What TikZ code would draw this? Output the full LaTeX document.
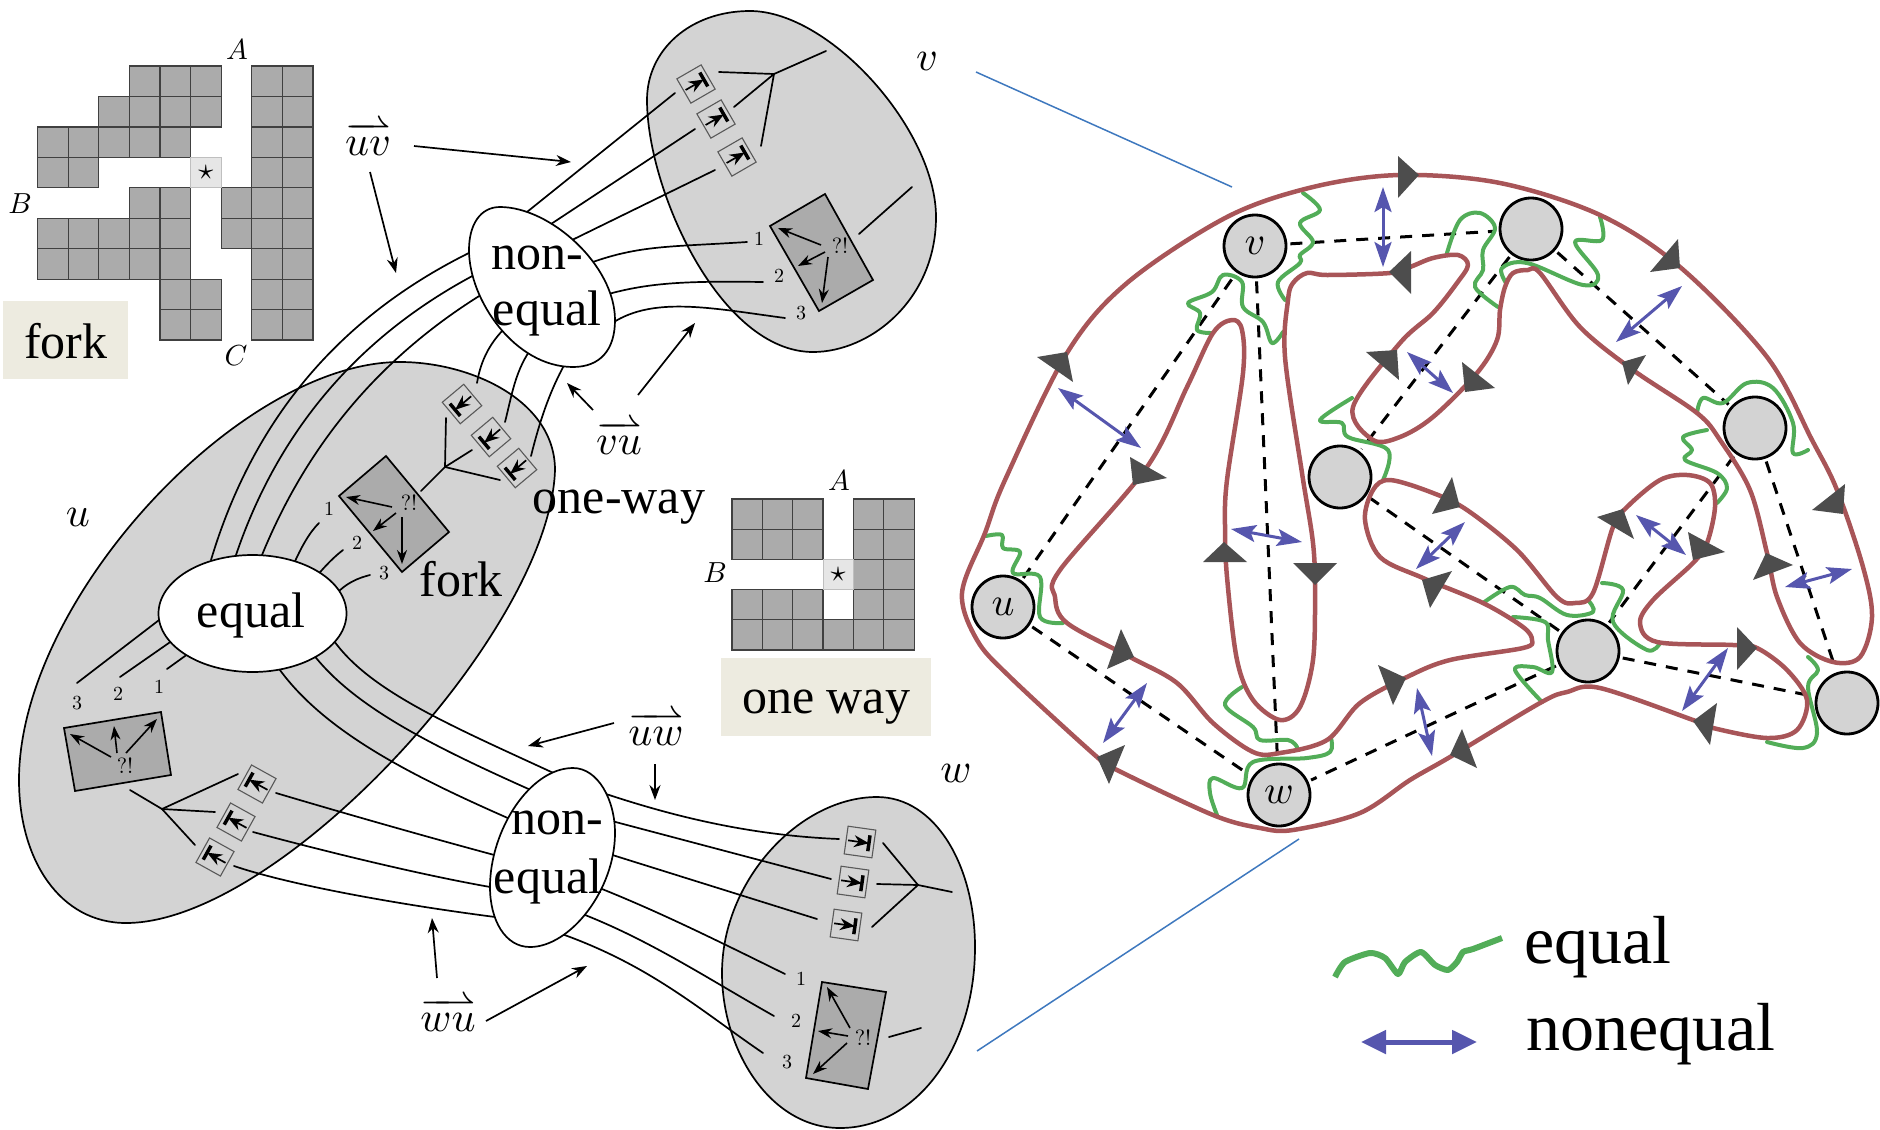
\documentclass[tikz,border=0pt]{standalone}
\usepackage{amsmath}
\usepackage{graphicx}
\usepackage[no-math]{fontspec}
\setmainfont{Liberation Serif}
\usetikzlibrary{arrows.meta,shapes.geometric}
\makeatletter
\def\harpfill@{\arrowfill@\relbar\relbar\rightharpoonup}
\newcommand\ovh{\mathpalette{\overarrow@\harpfill@}}
\makeatother
\definecolor{ellgray}{HTML}{D3D3D3}
\definecolor{rectgray}{HTML}{ABABAB}
\definecolor{stargray}{HTML}{E6E6E6}
\definecolor{tagbg}{HTML}{EDEBE0}
\definecolor{brownred}{HTML}{A85558}
\definecolor{eqgreen}{HTML}{52AD58}
\definecolor{neblue}{HTML}{5656AE}
\definecolor{tridark}{HTML}{4D4D4D}
\definecolor{zoomblue}{HTML}{3E78BE}
\newcommand\bigtxt{\fontsize{50}{56}\selectfont}
\newcommand\hugetxt{\fontsize{68}{76}\selectfont}
\newcommand\mth[2]{\scalebox{#1}{$#2$}}
\tikzset{
  lline/.style={line width=1.7pt,line cap=round},
  ell/.style={draw=black,line width=1.7pt,fill=ellgray},
  wellipse/.style={draw=black,line width=1.7pt,fill=white},
  frect/.style={draw=black,line width=1.7pt,fill=rectgray,line join=miter},
  sarrow/.style={line width=1.6pt,-{Stealth[length=14pt,width=10pt]}},
  parrow/.style={line width=1.7pt,-{Stealth[length=15pt,width=11pt]}},
  txt/.style={inner sep=0pt,outer sep=0pt},
  tagbox/.style={fill=tagbg,draw=none},
  cellg/.style={fill=rectgray,draw=black!75,line width=1.2pt},
  cellstar/.style={fill=stargray,draw=black!25,line width=1pt},
  dashline/.style={line width=3pt,dash pattern=on 12pt off 10pt},
  brown/.style={draw=brownred,line width=4.5pt,line join=round},
  greenl/.style={draw=eqgreen,line width=4pt,line cap=round,line join=round},
  blued/.style={draw=neblue,line width=3pt,
    {Stealth[length=25pt,width=17pt,inset=5pt]}-{Stealth[length=25pt,width=17pt,inset=5pt]}},
  tri/.style={fill=tridark},
  vert/.style={circle,draw=black,fill=ellgray,line width=2.8pt,minimum size=62pt,inner sep=0pt},
  zoomline/.style={draw=zoomblue,line width=1.5pt},
}
\newcommand\tbx[3]{%
  \begin{scope}[shift={(#1,#2)},rotate=#3]
    \draw[draw=black!65,line width=1.1pt,fill=ellgray] (-14,-14) rectangle (14,14);
    \draw[line width=1.7pt,-{Stealth[length=15pt,width=12pt]}] (-12,0) -- (9,0);
    \draw[line width=3.5pt] (9,-8) -- (9,8);
  \end{scope}}
\begin{document}
\begin{tikzpicture}[x=1pt,y=-1pt]
\useasboundingbox (0,0) rectangle (1880,1130);

% ---------- fork grid
\foreach \row/\lst in {0/{3,4,5,7,8},1/{2,3,4,5,7,8},2/{0,1,2,3,4,7,8},3/{0,1,7,8},4/{3,4,6,7,8},5/{0,1,2,3,4,6,7,8},6/{0,1,2,3,4,7,8},7/{4,5,7,8},8/{4,5,7,8}}{
  \foreach \c in \lst {
    \draw[cellg] ({37.5+\c*30.6},{66+\row*30.45}) rectangle +(30.6,30.45);
  }
}
\draw[cellstar] ({37.5+5*30.6},{66+3*30.45}) rectangle +(30.6,30.45);
\node[txt] (star1) at ({37.5+5.5*30.6},{66+3.5*30.45}) {\mth{3}{\star}};
\node[txt] (fa) at (237,50) {\mth{2.9}{A}};
\node[txt] (fb) at (20,204) {\mth{2.9}{B}};
\node[txt] (fc) at (236,356) {\mth{2.9}{C}};
\fill[tagbox] (3,301) rectangle (128,379);
\node[txt] (forktag) at (66,341) {\bigtxt fork};

% ---------- one-way grid
\foreach \row/\lst in {0/{0,1,2,4,5},1/{0,1,2,4,5},2/{4,5},3/{0,1,2,4,5},4/{0,1,2,3,4,5}}{
  \foreach \c in \lst {
    \draw[cellg] ({732+\c*30.35},{499+\row*30.2}) rectangle +(30.35,30.2);
  }
}
\draw[cellstar] ({732+3*30.35},{499+2*30.2}) rectangle +(30.35,30.2);
\node[txt] (star2) at ({732+3.5*30.35},{499+2.5*30.2}) {\mth{3}{\star}};
\node[txt] (oa) at (839,481) {\mth{2.9}{A}};
\node[txt] (ob) at (715,573) {\mth{2.9}{B}};
\fill[tagbox] (721,658) rectangle (931,736);
\node[txt] (waytag) at (826,707) {\bigtxt one way};

% ---------- big gray blobs
\path[ell] (400,362) .. controls (470,362) and (555,400) .. (555,470)
  .. controls (550,630) and (280,923) .. (126,923)
  .. controls (60,923) and (19,860) .. (19,780)
  .. controls (19,600) and (240,362) .. (400,362) -- cycle;
\path[ell] (750,11) .. controls (830,11) and (936,130) .. (936,217)
  .. controls (936,300) and (870,352) .. (813,352)
  .. controls (720,352) and (647,190) .. (647,100)
  .. controls (647,50) and (690,11) .. (750,11) -- cycle;
\path[ell] (877,797) .. controls (935,797) and (975,865) .. (975,947)
  .. controls (975,1050) and (915,1128) .. (840,1128)
  .. controls (770,1128) and (722,1050) .. (722,973)
  .. controls (722,880) and (800,797) .. (877,797) -- cycle;

% ---------- bundle lines
\draw[lline] (211,560) .. controls (250,430) and (330,320) .. (475,250);
\draw[lline] (236,555) .. controls (275,440) and (350,340) .. (478,273);
\draw[lline] (262,555) .. controls (305,450) and (375,360) .. (484,293);
\draw[lline] (522,216) -- (675,93);
\draw[lline] (548,226) -- (695,129);
\draw[lline] (570,241) -- (715,170);
\draw[lline] (590,263) .. controls (640,245) and (670,247) .. (747,242);
\draw[lline] (605,295) .. controls (650,282) and (690,281) .. (763,282);
\draw[lline] (608,326) .. controls (650,295) and (710,308) .. (785,318);
\draw[lline] (507,326) .. controls (487,345) and (480,365) .. (477,383);
\draw[lline] (533,346) .. controls (515,370) and (512,395) .. (505,422);
\draw[lline] (567,360) .. controls (550,390) and (540,420) .. (531,456);
\draw[lline] (330,635) .. controls (365,690) and (450,725) .. (560,776);
\draw[lline] (310,650) .. controls (350,705) and (430,745) .. (533,791);
\draw[lline] (275,663) .. controls (320,730) and (410,775) .. (510,819);
\draw[lline] (276,793) .. controls (340,812) and (420,835) .. (498,856);
\draw[lline] (253,832) .. controls (320,850) and (420,875) .. (496,888);
\draw[lline] (234,866) .. controls (290,885) and (400,905) .. (503,918);
\draw[lline] (600,792) .. controls (660,812) and (740,835) .. (839,839);
\draw[lline] (608,820) -- (831,879);
\draw[lline] (606,853) -- (817,919);
\draw[lline] (597,887) .. controls (660,912) and (720,942) .. (785,974);
\draw[lline] (580,913) .. controls (650,940) and (710,980) .. (774,1016);
\draw[lline] (559,933) .. controls (650,965) and (700,1010) .. (763,1053);
% short stubs near equal
\draw[lline] (292,568) .. controls (302,545) and (310,532) .. (319,523);
\draw[lline] (315,578) .. controls (326,565) and (334,557) .. (343,550);
\draw[lline] (335,595) .. controls (346,583) and (358,578) .. (370,575);
\draw[lline] (163,617) -- (77,683);
\draw[lline] (176,638) -- (120,677);
\draw[lline] (192,651) -- (167,669);

% ---------- white ellipses
\node[wellipse,ellipse,minimum width=188pt,minimum height=117pt,inner sep=0pt] (equal) at (252.5,613.5) {};
\path[wellipse] (500,207) .. controls (550,207) and (615,265) .. (615,320)
  .. controls (615,350) and (600,367) .. (573,367)
  .. controls (515,367) and (469,300) .. (469,250)
  .. controls (469,225) and (480,207) .. (500,207) -- cycle;
\path[wellipse] (573,768) .. controls (598,768) and (615,800) .. (615,833)
  .. controls (615,890) and (570,947) .. (530,947)
  .. controls (505,947) and (490,920) .. (490,887)
  .. controls (490,830) and (530,768) .. (573,768) -- cycle;
\node[txt] (eqtxt) at (251,615) {\bigtxt equal};
\node[txt] (n1a) at (537,258) {\bigtxt non-};
\node[txt] (n1b) at (547,313) {\bigtxt equal};
\node[txt] (n2a) at (557,823) {\bigtxt non-};
\node[txt] (n2b) at (548,881) {\bigtxt equal};
\node[txt] (forklab) at (461,579) {\bigtxt fork};
\node[txt] (onewaylab) at (619,507) {\bigtxt one-way};

% ---------- small T boxes
\tbx{696}{84}{30} \tbx{716}{119}{30} \tbx{737}{157}{30}
\tbx{462}{404}{220} \tbx{491}{437}{220} \tbx{517}{468}{220}
\tbx{257}{784}{151} \tbx{236}{822}{151} \tbx{215}{857}{151}
\tbx{860}{842}{-8} \tbx{853}{882}{-8} \tbx{846}{925}{-8}

% ---------- Y branches
\coordinate (yv) at (774,74);
\draw[lline] (719,72) -- (yv); \draw[lline] (734,107) -- (yv); \draw[lline] (761,146) -- (yv); \draw[lline] (yv) -- (826,51);
\coordinate (yu) at (445,467);
\draw[lline] (446,418) -- (yu); \draw[lline] (472,450) -- (yu); \draw[lline] (500,480) -- (yu); \draw[lline] (yu) -- (421,491);
\coordinate (yl) at (162,809);
\draw[lline] (238,774) -- (yl); \draw[lline] (215,812) -- (yl); \draw[lline] (195,845) -- (yl); \draw[lline] (yl) -- (130,790);
\coordinate (yw) at (918,885);
\draw[lline] (883,843) -- (yw); \draw[lline] (877,884) -- (yw); \draw[lline] (872,927) -- (yw); \draw[lline] (yw) -- (952,892);
\draw[lline] (859,234) -- (912,187);
\draw[lline] (889,1037) -- (921,1028);

% ---------- fork rectangles
\draw[frect] (770,226) -- (825,194) -- (873,280) -- (819,311) -- cycle;
\node[txt] (q1) at (840,246) {\mth{2.2}{?!}};
\draw[sarrow] (821,245) -- (778,228);
\draw[sarrow] (825,252) -- (798,266);
\draw[sarrow] (828,257) -- (822,303);
\draw[frect] (386,456) -- (339,496) -- (402,572) -- (449,532) -- cycle;
\node[txt] (q2) at (409,503) {\mth{2.2}{?!}};
\draw[sarrow] (392,507) -- (346,497);
\draw[sarrow] (396,513) -- (373,531);
\draw[sarrow] (402,517) -- (402,564);
\draw[frect] (64,728) -- (161,712) -- (171,775) -- (75,791) -- cycle;
\node[txt] (q3) at (125,766) {\mth{2.2}{?!}};
\draw[sarrow] (111,757) -- (70,734);
\draw[sarrow] (117,753) -- (114,726);
\draw[sarrow] (126,753) -- (157,719);
\draw[frect] (822,982) -- (886,992) -- (868,1089) -- (806,1078) -- cycle;
\node[txt] (q4) at (863,1038) {\mth{2.2}{?!}};
\draw[sarrow] (850,1028) -- (827,987);
\draw[sarrow] (848,1036) -- (818,1031);
\draw[sarrow] (847,1043) -- (813,1074);

% ---------- numbers
\node[txt] (vn1) at (759,239) {\mth{2}{1}};
\node[txt] (vn2) at (779,276) {\mth{2}{2}};
\node[txt] (vn3) at (801,313) {\mth{2}{3}};
\node[txt] (un1) at (329,509) {\mth{2}{1}};
\node[txt] (un2) at (357,543) {\mth{2}{2}};
\node[txt] (un3) at (384,573) {\mth{2}{3}};
\node[txt] (ln1) at (159,687) {\mth{2}{1}};
\node[txt] (ln2) at (118,694) {\mth{2}{2}};
\node[txt] (ln3) at (77,703) {\mth{2}{3}};
\node[txt] (wn1) at (801,979) {\mth{2}{1}};
\node[txt] (wn2) at (796,1021) {\mth{2}{2}};
\node[txt] (wn3) at (787,1062) {\mth{2}{3}};

% ---------- vertex letters
\node[txt] (lv) at (927,61) {\mth{4.2}{v}};
\node[txt] (lu) at (78,517) {\mth{4.2}{u}};
\node[txt] (lw) at (956,773) {\mth{4.2}{w}};

% ---------- direction labels and pointers
\node[txt] (uvl) at (368,139) {\mth{4.2}{\ovh{uv}}};
\node[txt] (vul) at (619,438) {\mth{4.2}{\ovh{vu}}};
\node[txt] (uwl) at (656,729) {\mth{4.2}{\ovh{uw}}};
\node[txt] (wul) at (448,1015) {\mth{4.2}{\ovh{wu}}};
\draw[parrow] (414,146) -- (571,162);
\draw[parrow] (370,172) -- (396,273);
\draw[parrow] (638,395) -- (695,323);
\draw[parrow] (593,410) -- (567,383);
\draw[parrow] (614,723) -- (528,746);
\draw[parrow] (655,764) -- (655,800);
\draw[parrow] (486,1021) -- (587,966);
\draw[parrow] (437,978) -- (432,918);

% ---------- zoom lines
\draw[zoomline] (976,72) -- (1232,187);
\draw[zoomline] (977,1051) -- (1299,839);

% ---------- graph vertices
\node[vert] (v) at (1255,246) {\mth{4}{v}};
\node[vert] (t) at (1531,229) {};
\node[vert] (r) at (1755,428) {};
\node[vert] (m) at (1340,477) {};
\node[vert] (u) at (1003,607) {\mth{4}{u}};
\node[vert] (w) at (1279,795) {\mth{4}{w}};
\node[vert] (c) at (1588,651) {};
\node[vert] (b) at (1847,703) {};

\foreach \p/\q in {u/v,v/w,v/t,t/m,t/r,r/c,r/b,m/c,c/b,c/w,u/w}{
  \draw[dashline,shorten <=3pt,shorten >=3pt] (\p) -- (\q);
}

% ---------- green equal curves
\draw[greenl] plot[smooth,tension=0.6] coordinates {(1303,193)(1320,210)(1300,223)(1313,242)(1300,255)(1300,263)(1278,282)(1285,300)};
\draw[greenl] plot[smooth,tension=0.6] coordinates {(1212,333)(1197,330)(1200,313)(1188,303)(1212,292)(1223,275)(1242,282)(1243,307)(1263,322)(1272,343)(1283,332)};
\draw[greenl] plot[smooth,tension=0.6] coordinates {(1352,398)(1320,420)(1342,423)(1348,437)(1388,450)(1383,480)};
\draw[greenl] plot[smooth,tension=0.6] coordinates {(1447,253)(1460,220)(1480,213)(1495,228)(1483,250)(1483,270)(1475,287)(1498,307)};
\draw[greenl] plot[smooth,tension=0.6] coordinates {(1506,283)(1502,268)(1527,263)(1583,285)(1598,275)(1575,242)(1602,240)(1600,217)};
\draw[greenl] plot[smooth,tension=0.6] coordinates {(1697,413)(1703,398)(1723,403)(1747,383)(1773,388)(1793,423)(1793,453)(1808,450)};
\draw[greenl] plot[smooth,tension=0.6] coordinates {(1707,430)(1683,437)(1692,450)(1685,460)(1717,473)(1727,488)(1717,503)};
\draw[greenl] plot[smooth,tension=0.6] coordinates {(1483,603)(1510,587)(1525,595)(1540,598)(1567,615)(1593,612)(1588,600)};
\draw[greenl] plot[smooth,tension=0.6] coordinates {(1513,617)(1545,622)(1548,640)(1552,672)(1533,667)(1515,670)(1542,702)};
\draw[greenl] plot[smooth,tension=0.6] coordinates {(1602,583)(1623,590)(1613,622)(1647,650)(1660,643)};
\draw[greenl] plot[smooth,tension=0.6] coordinates {(1808,657)(1818,670)(1808,687)(1817,733)(1803,748)(1767,742)};
\draw[greenl] plot[smooth,tension=0.6] coordinates {(986,536)(1002,535)(1003,548)(1020,552)(1013,573)(1040,577)(1040,617)(1063,623)};
\draw[greenl] plot[smooth,tension=0.6] coordinates {(1242,687)(1225,705)(1253,727)(1260,740)(1288,740)(1297,747)};
\draw[greenl] plot[smooth,tension=0.6] coordinates {(1331,738)(1330,752)(1307,758)(1253,762)(1242,788)(1213,778)(1210,793)(1217,815)};

% ---------- brown face boundary
\draw[brown] plot[smooth cycle,tension=0.55] coordinates {
(962,593)(985,533)(1005,480)(1067,353)(1127,283)(1227,217)(1313,187)(1400,175)(1500,183)(1600,215)(1680,267)(1767,357)(1812,440)(1837,490)(1863,567)(1872,617)(1860,657)(1833,662)(1800,643)(1777,597)(1767,553)(1750,490)(1720,440)(1697,413)(1633,370)(1580,327)(1540,273)(1528,270)(1513,273)(1505,287)(1500,310)(1497,340)(1477,373)(1433,417)(1400,437)(1373,440)(1353,407)(1400,343)(1433,313)(1457,283)(1468,265)(1458,255)(1433,258)(1410,267)(1390,273)(1327,275)(1307,273)(1293,283)(1288,300)(1285,357)(1302,473)(1313,543)(1315,593)(1313,660)(1300,707)(1280,720)(1253,700)(1237,660)(1227,577)(1225,527)(1227,480)(1243,373)(1242,330)(1232,320)(1213,333)(1187,387)(1147,467)(1060,570)(1055,597)(1067,623)(1130,657)(1177,683)(1213,723)(1253,752)(1280,753)(1327,740)(1360,703)(1407,677)(1450,660)(1523,648)(1532,640)(1523,627)(1483,603)(1423,578)(1380,557)(1365,520)(1373,490)(1390,480)(1433,493)(1467,510)(1517,550)(1557,597)(1575,603)(1593,593)(1613,527)(1627,507)(1660,480)(1687,475)(1710,483)(1715,507)(1707,543)(1693,563)(1653,600)(1640,623)(1657,642)(1733,645)(1757,648)(1787,670)(1807,700)(1797,730)(1767,738)(1713,728)(1693,720)(1600,688)(1567,692)(1540,703)(1450,757)(1410,780)(1360,813)(1293,830)(1260,828)(1213,815)(1117,770)(1097,757)(1010,677)(977,640)};

% ---------- blue double arrows
\foreach \p/\q in {{1383,187}/{1383,267}, {1058,388}/{1141,448}, {1407,352}/{1453,393}, {1682,286}/{1616,342}, {1231,529}/{1302,542}, {1147,683}/{1103,743}, {1417,688}/{1432,756}, {1465,522}/{1416,569}, {1636,515}/{1686,555}, {1852,569}/{1785,587}, {1728,648}/{1682,711}}{
  \draw[blued] (\p) -- (\q);
}

% ---------- dark triangles
\foreach \ta/\tb/\tc in {
 {1398,156}/{1419,175}/{1398,198}, {1411,251}/{1389,272}/{1411,294}, {1037,357}/{1067,352}/{1073,382},
 {1366,352}/{1397,350}/{1399,380}, {1130,457}/{1167,478}/{1133,485}, {1678,239}/{1680,268}/{1650,272},
 {1646,355}/{1622,362}/{1628,385}, {1462,362}/{1495,388}/{1465,392}, {1203,562}/{1224,542}/{1247,562},
 {1293,563}/{1337,563}/{1315,585}, {1121,629}/{1134,657}/{1107,669}, {1125,745}/{1097,757}/{1109,784},
 {1378,665}/{1406,678}/{1393,705}, {1452,477}/{1460,507}/{1432,514}, {1452,571}/{1422,580}/{1430,608},
 {1597,517}/{1623,509}/{1634,539}, {1688,532}/{1725,552}/{1693,560}, {1845,484}/{1843,514}/{1812,510},
 {1766,553}/{1793,565}/{1753,580}, {1737,627}/{1757,648}/{1737,670}, {1717,703}/{1693,721}/{1710,745},
 {1462,729}/{1450,755}/{1477,768}}{
  \fill[tri] (\ta) -- (\tb) -- (\tc) -- cycle;
}

% ---------- legend
\draw[draw=eqgreen,line width=6pt,line join=round] plot[smooth,tension=0.4] coordinates {(1335,977)(1345,962)(1370,953)(1385,958)(1398,974)(1405,962)(1421,952)(1435,965)(1448,970)(1457,962)(1463,952)(1473,949)(1502,938)};
\coordinate (legb1) at (1361,1042);
\coordinate (legb2) at (1477,1042);
\draw[draw=neblue,line width=5pt,{Stealth[length=25pt,width=23pt,inset=0pt]}-{Stealth[length=25pt,width=23pt,inset=0pt]}] (legb1) -- (legb2);
\node[txt,anchor=base west] (legeq) at (1524,963) {\hugetxt equal};
\node[txt,anchor=base west] (legne) at (1526,1050) {\hugetxt nonequal};
\end{tikzpicture}
\end{document}
